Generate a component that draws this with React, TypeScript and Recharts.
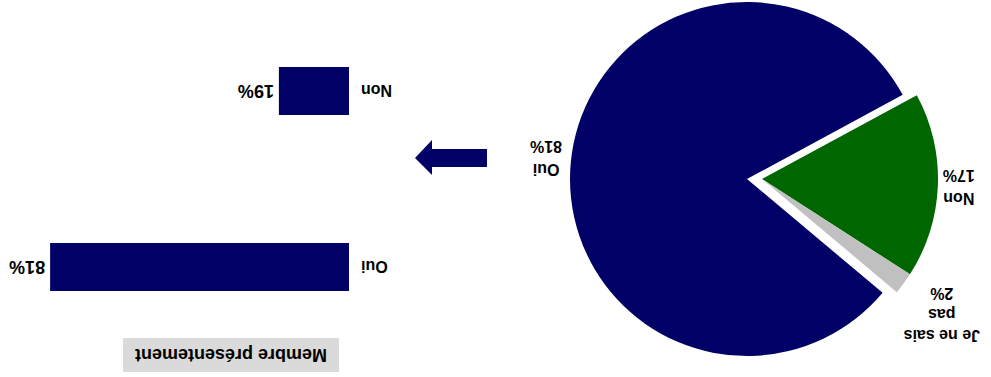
import { PieChart, Pie, Cell, BarChart, Bar, XAxis, YAxis, LabelList } from "recharts"

const pieNames = ["Oui", "Non", "Je ne sais pas"]
const pieValues = [81, 17, 2]
const pieLabelLines = [["Oui", "81%"], ["Non", "17%"], ["Je ne sais", "pas", "2%"]]
const pieColors = ["#000066", "#006600", "#c0c0c0"]

const barNames = ["Oui", "Non"]
const barValues = [81, 19]

const pieData = pieNames.map((name, i) => ({ name, value: pieValues[i] }))
const barData = barNames.map((name, i) => ({ name, value: barValues[i] }))

const font = "'Liberation Sans', Arial, sans-serif"
const RAD = Math.PI / 180
const labelRadius = [202, 212, 242]
const labelShiftY = [0, 0, 8]

function PieLabel(props: any) {
  const { cx, cy, midAngle, index } = props
  const r = labelRadius[index]
  const x = cx + r * Math.cos(-midAngle * RAD)
  const y = cy + r * Math.sin(-midAngle * RAD) + labelShiftY[index]
  const lines = pieLabelLines[index]
  const lh = index === 2 ? 21 : 23
  const y0 = y - ((lines.length - 1) * lh) / 2
  return (
    <text x={x} y={y0} textAnchor="middle" dominantBaseline="central" fontFamily={font} fontWeight="bold" fontSize={16} fill="#000">
      {lines.map((l, i) => (
        <tspan key={i} x={x} dy={i === 0 ? 0 : lh}>{l}</tspan>
      ))}
    </text>
  )
}

export default function App() {
  return (
    <div style={{ position: "absolute", left: 0, top: 0, width: 991, height: 377, overflow: "hidden", transform: "rotate(180deg)", background: "#fff" }}>
      <div style={{ position: "absolute", left: 0, top: 0 }}>
        <PieChart width={520} height={377} margin={{ top: 0, right: 0, bottom: 0, left: 0 }}>
          {/* main slice */}
          <Pie
            data={pieData}
            dataKey="value"
            cx={244}
            cy={198}
            outerRadius={177}
            startAngle={140}
            endAngle={-220}
            stroke="none"
            label={PieLabel}
            labelLine={false}
            isAnimationActive={false}
          >
            {pieData.map((d, i) => (
              <Cell key={d.name} fill={i === 0 ? pieColors[0] : "none"} />
            ))}
          </Pie>
          {/* exploded slices */}
          <Pie
            data={pieData}
            dataKey="value"
            cx={229}
            cy={198}
            outerRadius={176}
            startAngle={140}
            endAngle={-220}
            stroke="none"
            isAnimationActive={false}
          >
            {pieData.map((d, i) => (
              <Cell key={d.name} fill={i === 0 ? "none" : pieColors[i]} />
            ))}
          </Pie>
        </PieChart>
      </div>

      <svg style={{ position: "absolute", left: 500, top: 195 }} width={80} height={46}>
        <polygon points="4,15 59,15 59,7 76,24 59,42 59,33 4,33" fill="#000066" />
      </svg>

      <div style={{ position: "absolute", left: 560, top: 0 }}>
        <BarChart width={451} height={377} data={barData} layout="vertical" margin={{ top: 22, right: 0, bottom: 3, left: 0 }}>
          <XAxis type="number" domain={[0, 100]} hide />
          <YAxis
            type="category"
            dataKey="name"
            width={82}
            axisLine={false}
            tickLine={false}
            tickMargin={6}
            tick={{ fill: "#000", fontFamily: font, fontWeight: "bold", fontSize: 16 }}
          />
          <Bar dataKey="value" fill="#000066" barSize={48} isAnimationActive={false}>
            <LabelList
              dataKey="value"
              position="right"
              offset={5}
              formatter={(v: any) => `${v}%`}
              style={{ fill: "#000", fontFamily: font, fontWeight: "bold", fontSize: 18 }}
            />
          </Bar>
        </BarChart>
      </div>

      <div
        style={{
          position: "absolute",
          left: 652,
          top: 5,
          width: 216,
          height: 34,
          background: "#dadada",
          fontFamily: font,
          fontWeight: "bold",
          fontSize: 18,
          lineHeight: "34px",
          textAlign: "center",
          color: "#000",
        }}
      >
        Membre présentement
      </div>
    </div>
  )
}
